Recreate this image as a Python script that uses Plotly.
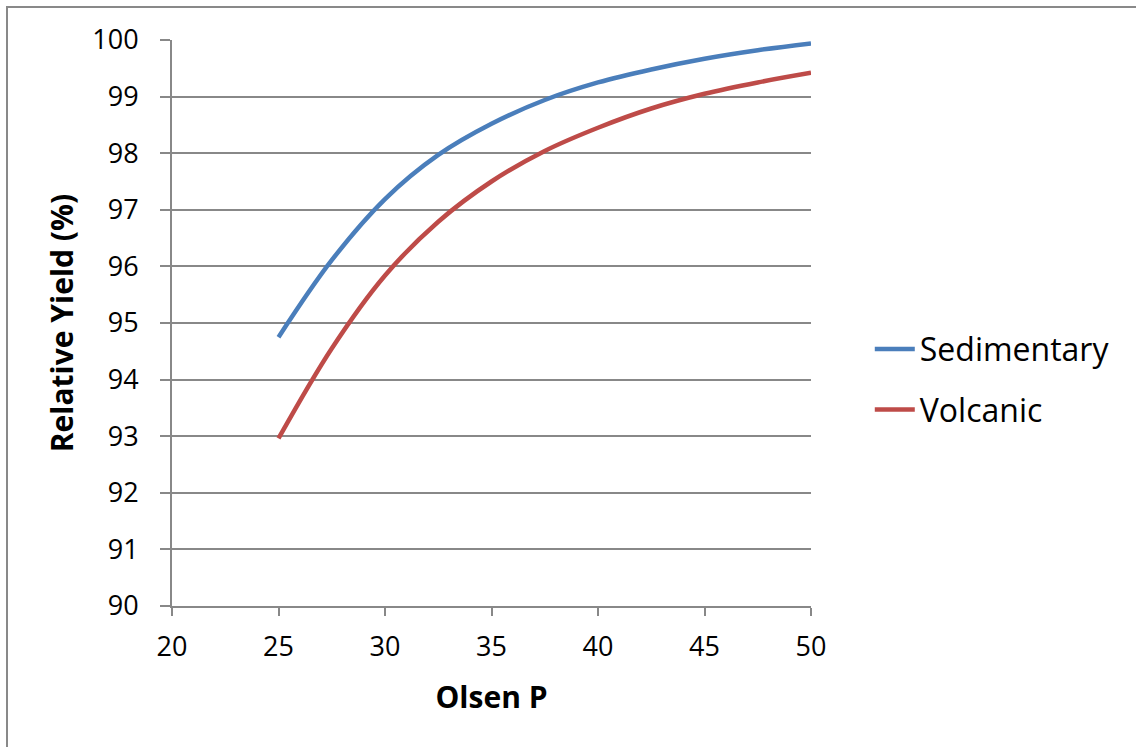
import plotly.graph_objects as go

# Data
x_vals = [25, 27.5, 30, 32.5, 35, 37.5, 40, 42.5, 45, 47.5, 50]
sed_y = [94.75, 96.11, 97.19, 97.97, 98.52, 98.94, 99.25, 99.48, 99.67, 99.82, 99.94]
vol_y = [92.96, 94.55, 95.84, 96.79, 97.50, 98.04, 98.45, 98.79, 99.05, 99.25, 99.42]

x_ticks = [20, 25, 30, 35, 40, 45, 50]
y_ticks = [90, 91, 92, 93, 94, 95, 96, 97, 98, 99, 100]

FONT = "Open Sans"
GRID = "#888888"

fig = go.Figure()
fig.add_trace(go.Scatter(x=x_vals, y=sed_y, mode="lines", name="Sedimentary", legendgroup="a",
                         line=dict(color="#4A7EBB", width=4.5, shape="spline", smoothing=1.0)))
fig.add_trace(go.Scatter(x=x_vals, y=vol_y, mode="lines", name="Volcanic", legendgroup="b",
                         line=dict(color="#BE4B48", width=4.5, shape="spline", smoothing=1.0)))

fig.update_layout(
    width=1136, height=747,
    margin=dict(l=172, r=325, t=40, b=141),
    paper_bgcolor="white", plot_bgcolor="white",
    font=dict(family=FONT, size=27, color="black"),
    showlegend=True,
    legend=dict(x=1.092, y=0.400, xanchor="left", yanchor="middle",
                font=dict(family=FONT, size=32, color="black"),
                bgcolor="rgba(0,0,0,0)", tracegroupgap=16, itemwidth=40),
    xaxis=dict(range=[20, 50], tickvals=x_ticks, ticks="outside", ticklen=8,
               tickcolor=GRID, tickwidth=1.5, showgrid=False, zeroline=False,
               showline=True, linecolor=GRID, linewidth=2,
               tickfont=dict(family=FONT, size=27), ticklabelstandoff=8,
               title=dict(text="<b>Olsen P</b>", font=dict(family=FONT, size=30), standoff=24)),
    yaxis=dict(range=[90, 100], tickvals=y_ticks, ticks="outside", ticklen=10,
               tickcolor=GRID, tickwidth=1.5, showgrid=True, gridcolor=GRID, gridwidth=2,
               zeroline=False, showline=True, linecolor=GRID, linewidth=2,
               tickfont=dict(family=FONT, size=27), ticklabelstandoff=16,
               title=dict(text="<b>Relative Yield (%)</b>", font=dict(family=FONT, size=30), standoff=10)),
    shapes=[dict(type="rect", xref="paper", yref="paper",
                 x0=(7 - 172) / 639, x1=2.0, y0=-0.5, y1=(606 - 7) / 566,
                 line=dict(color="#898989", width=2), fillcolor="rgba(0,0,0,0)", layer="below")],
)

fig.write_html("out.html")
